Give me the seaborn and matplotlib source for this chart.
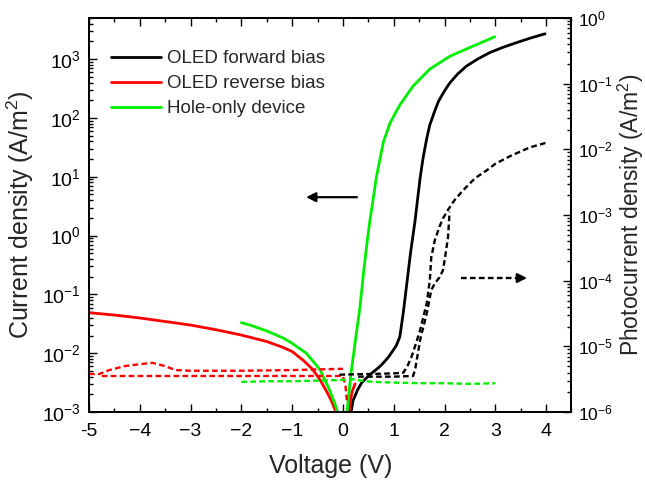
import numpy as np
import seaborn as sns
import matplotlib.pyplot as plt
from matplotlib.ticker import MultipleLocator, LogLocator, NullFormatter

sns.set_style("ticks")
plt.rcParams['font.family'] = ['Liberation Sans', 'DejaVu Sans']
plt.rcParams['mathtext.default'] = 'regular'

# ---- current density (left axis), values as log10(J) ----
fwd_v = [0.15, 0.2, 0.29, 0.37, 0.45, 0.55, 0.65, 0.72, 0.8, 0.9, 0.98, 1.05, 1.12, 1.19,
         1.26, 1.33, 1.42, 1.47, 1.52, 1.58, 1.65, 1.71, 1.8, 1.88, 2.0, 2.1, 2.25, 2.43,
         2.65, 2.89, 3.15, 3.42, 3.7, 3.98]
fwd_logj = [-3.05, -2.8, -2.62, -2.5, -2.43, -2.35, -2.28, -2.23, -2.16, -2.06, -1.96, -1.87,
            -1.72, -1.3, -0.8, -0.3, 0.25, 0.62, 0.98, 1.33, 1.65, 1.88, 2.1, 2.28, 2.46, 2.59,
            2.74, 2.88, 3.0, 3.11, 3.2, 3.28, 3.36, 3.43]

rev_v = [-5, -4.5, -4, -3.5, -3, -2.5, -2, -1.5, -1.18, -1, -0.78, -0.6, -0.45, -0.32,
         -0.22, -0.16, -0.11]
rev_logj = [-1.31, -1.35, -1.40, -1.46, -1.52, -1.60, -1.69, -1.80, -1.90, -1.97, -2.12,
            -2.27, -2.45, -2.65, -2.82, -2.95, -3.1]
rev_pos_v = [0.11, 0.14, 0.18, 0.24]
rev_pos_logj = [-3.1, -2.85, -2.65, -2.52]

hole_neg_v = [-2, -1.83, -1.5, -1.18, -1.0, -0.72, -0.45, -0.26, -0.15, -0.07]
hole_neg_logj = [-1.48, -1.52, -1.62, -1.74, -1.83, -2.0, -2.28, -2.63, -2.88, -3.1]
hole_pos_v = [0.07, 0.15, 0.25, 0.33, 0.41, 0.47, 0.53, 0.6, 0.66, 0.74, 0.8, 0.93, 1.12,
              1.38, 1.71, 2.11, 2.56, 2.99]
hole_pos_logj = [-3.1, -2.4, -1.75, -1.25, -0.6, -0.15, 0.25, 0.65, 1.0, 1.35, 1.6, 1.92,
                 2.22, 2.54, 2.83, 3.05, 3.22, 3.38]

# ---- photocurrent density (right axis), values as log10(J) ----
pc_fwd_a_v = [-0.07, 0.5, 1.0, 1.19, 1.27, 1.35, 1.44, 1.52, 1.65, 1.71, 1.74, 1.81, 1.9,
              1.97, 2.07, 2.2, 2.37, 2.6, 2.83, 3.0, 3.3, 3.68, 4.0]
pc_fwd_a_logj = [-5.43, -5.42, -5.41, -5.40, -5.3, -5.16, -4.95, -4.75, -4.34, -4.0, -3.64,
                 -3.38, -3.18, -3.05, -2.92, -2.77, -2.62, -2.44, -2.32, -2.22, -2.1, -1.97,
                 -1.9]
pc_fwd_b_v = [0.3, 1.0, 1.38, 1.42, 1.52, 1.65, 1.74, 1.81, 1.9, 1.97, 2.02, 2.07, 2.1]
pc_fwd_b_logj = [-5.46, -5.46, -5.45, -5.36, -4.9, -4.5, -4.14, -4.04, -3.95, -3.84, -3.6,
                 -3.33, -2.95]

pc_rev_a_v = [-5, -4.8, -4.6, -4.3, -4.0, -3.75, -3.5, -3.3, -3.0, -2, -1, -0.5, 0.0]
pc_rev_a_logj = [-5.42, -5.42, -5.36, -5.3, -5.27, -5.25, -5.3, -5.36, -5.37, -5.37, -5.36,
                 -5.35, -5.34]
pc_rev_b_v = [-4.75, -3, -2, -1, 0.0, 0.05, 0.08]
pc_rev_b_logj = [-5.45, -5.45, -5.45, -5.45, -5.45, -5.6, -5.85]

pc_hole_v = [-2, -1.5, -1, -0.5, 0, 0.2, 0.35, 0.6, 1, 1.5, 2, 2.5, 3]
pc_hole_logj = [-5.54, -5.53, -5.53, -5.52, -5.51, -5.50, -5.52, -5.54, -5.55, -5.56, -5.56,
                -5.57, -5.56]

x_ticks = [-5, -4, -3, -2, -1, 0, 1, 2, 3, 4]
x_labels = ['-5', '\u22124', '\u22123', '\u22122', '\u22121', '0', '1', '2', '3', '4']

black = '#000000'
red = '#ff0000'
green = '#00ee00'

fig, ax = plt.subplots(figsize=(6.45, 4.86), dpi=100)
fig.subplots_adjust(left=0.138, right=0.886, bottom=0.152, top=0.963)
ax2 = ax.twinx()

lw = 2.0
dash = (0, (2.4, 1.4))
dlw = 1.7

def draw(axis, v, logj, color, style='-', width=lw, label=None):
    sns.lineplot(x=v, y=10 ** np.array(logj), ax=axis, color=color, linestyle=style,
                 lw=width, sort=False, estimator=None, label=label, legend=False)

draw(ax, fwd_v, fwd_logj, black, label='OLED forward bias')
draw(ax, rev_v, rev_logj, red, label='OLED reverse bias')
draw(ax, rev_pos_v, rev_pos_logj, red)
draw(ax, hole_neg_v, hole_neg_logj, green, label='Hole-only device')
draw(ax, hole_pos_v, hole_pos_logj, green)

draw(ax2, pc_rev_a_v, pc_rev_a_logj, red, dash, dlw)
draw(ax2, pc_rev_b_v, pc_rev_b_logj, red, dash, dlw)
draw(ax2, pc_hole_v, pc_hole_logj, green, dash, dlw)
draw(ax2, pc_fwd_b_v, pc_fwd_b_logj, black, dash, dlw)
draw(ax2, pc_fwd_a_v, pc_fwd_a_logj, black, dash, dlw)

ax.set_yscale('log')
ax2.set_yscale('log')
ax.set_xlim(-5, 4.5)
ax.set_ylim(1e-3, 5e3)
ax2.set_ylim(1e-6, 1)

ax.set_xticks(x_ticks)
ax.set_xticklabels(x_labels)
ax.xaxis.set_minor_locator(MultipleLocator(0.5))
for a in (ax, ax2):
    a.yaxis.set_major_locator(LogLocator(base=10, numticks=20))
    a.yaxis.set_minor_locator(LogLocator(base=10, subs=np.arange(2, 10), numticks=20))
    a.yaxis.set_minor_formatter(NullFormatter())
    a.xaxis.get_offset_text().set_visible(False)
    a.yaxis.get_offset_text().set_visible(False)
    for s in a.spines.values():
        s.set_linewidth(1.4)
        s.set_color('black')
ax2.set_xlabel('')

ax.tick_params(axis='both', which='both', direction='in', top=True, right=False,
               width=1.0, colors='black')
ax.tick_params(which='major', length=6)
ax.tick_params(which='minor', length=3)
ax.tick_params(axis='x', labelsize=14, pad=8)
ax.tick_params(axis='y', labelsize=14, pad=6)
ax2.tick_params(axis='y', which='both', direction='in', width=1.0, colors='black',
                labelsize=12.5, pad=5)
ax2.tick_params(which='major', length=6)
ax2.tick_params(which='minor', length=3)

ax.set_xlabel('Voltage (V)', fontsize=18, labelpad=10)
ax.set_ylabel('Current density (A/m$^2$)', fontsize=18, labelpad=4)
ax2.set_ylabel('Photocurrent density (A/m$^2$)', fontsize=16.5, labelpad=2)

# arrows pointing to each axis
ax.annotate('', xy=(-0.78, 4.5), xytext=(0.33, 4.5),
            arrowprops=dict(arrowstyle='-|>', color='black', lw=1.6, mutation_scale=14))
ax2.plot([2.32, 3.45], [1.1e-4, 1.1e-4], color='black', linestyle=dash, lw=dlw)
ax2.annotate('', xy=(3.68, 1.1e-4), xytext=(3.44, 1.1e-4),
             arrowprops=dict(arrowstyle='-|>', color='black', lw=1.6, mutation_scale=14))

ax.legend(loc='upper left', bbox_to_anchor=(0.045, 0.918), frameon=False, fontsize=13.5,
          handlelength=2.7, handletextpad=0.3, labelspacing=0.42, borderpad=0,
          borderaxespad=0)

fig.savefig('out.png', dpi=100)
